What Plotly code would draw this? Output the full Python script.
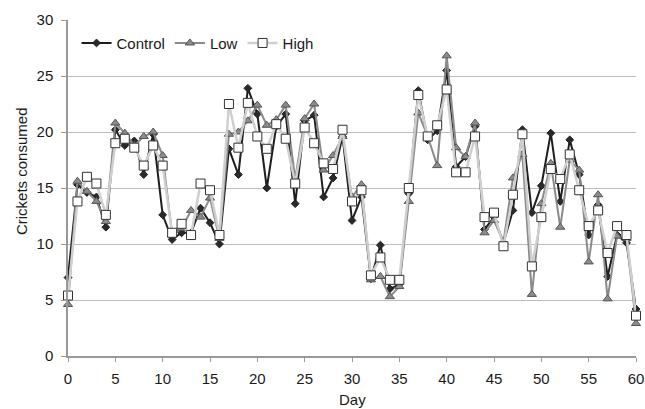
import plotly.graph_objects as go

days = list(range(0, 61))

control = [7.0, 15.3, 14.6, 14.2, 11.5, 20.2, 18.8, 19.2, 16.2, 19.8,
           12.6, 10.4, 11.0, 11.0, 13.2, 11.9, 10.0, 18.5, 16.2, 23.9,
           21.6, 15.0, 20.5, 21.6, 13.6, 21.0, 21.5, 14.2, 15.9, 19.6,
           12.1, 14.2, 6.9, 9.9, 6.0, 6.4, 14.5, 23.7, 19.3, 20.1,
           25.5, 16.9, 17.8, 20.5, 11.3, 12.4, 10.1, 13.0, 20.2, 12.8,
           15.2, 19.9, 13.8, 19.3, 16.2, 10.8, 13.5, 7.1, 10.8, 10.1,
           4.2]

low = [4.6, 15.6, 14.7, 13.8, 12.0, 20.8, 19.9, 18.8, 19.6, 20.0,
       17.9, 10.8, 11.4, 13.0, 12.4, 14.1, 10.5, 19.8, 20.0, 21.0,
       22.4, 20.6, 21.1, 22.4, 15.8, 21.2, 22.5, 16.6, 17.9, 19.6,
       14.2, 15.3, 6.8, 7.1, 5.3, 6.2, 13.8, 21.7, 19.6, 17.0,
       26.8, 18.6, 17.8, 20.8, 11.0, 12.1, 10.2, 15.9, 18.0, 5.5,
       13.6, 17.2, 11.5, 17.5, 16.6, 8.4, 14.4, 5.1, 10.7, 10.5,
       2.9]

high = [5.4, 13.8, 16.0, 15.4, 12.6, 19.0, 19.4, 18.6, 17.0, 18.8,
        17.0, 11.0, 11.8, 10.8, 15.4, 14.8, 10.8, 22.5, 18.6, 22.6,
        19.6, 18.5, 20.7, 19.4, 15.4, 20.4, 19.0, 17.2, 16.7, 20.2,
        13.8, 14.8, 7.2, 8.8, 6.8, 6.8, 15.0, 23.3, 19.6, 20.6,
        23.8, 16.4, 16.4, 19.6, 12.4, 12.8, 9.8, 14.4, 19.8, 8.0,
        12.4, 16.7, 15.8, 18.0, 14.8, 11.6, 13.0, 9.2, 11.6, 10.8,
        3.6]

x_ticks = list(range(0, 61, 5))
y_ticks = list(range(0, 31, 5))

fig = go.Figure()
fig.add_trace(go.Scatter(
    x=days, y=control, name="Control", mode="lines+markers",
    line=dict(color="#1e1e1e", width=2),
    marker=dict(symbol="diamond", size=6, color="#2a2a2a",
                line=dict(color="#1e1e1e", width=1)),
    cliponaxis=False))
fig.add_trace(go.Scatter(
    x=days, y=low, name="Low", mode="lines+markers",
    line=dict(color="#8a8a8a", width=2),
    marker=dict(symbol="triangle-up", size=8, color="#8c8c8c",
                line=dict(color="#555555", width=1)),
    cliponaxis=False))
fig.add_trace(go.Scatter(
    x=days, y=high, name="High", mode="lines+markers",
    line=dict(color="#cfcfcf", width=2.5),
    marker=dict(symbol="square", size=9, color="white",
                line=dict(color="#333333", width=1)),
    cliponaxis=False))

fig.update_layout(
    width=645, height=409,
    margin=dict(l=68, r=9, t=20, b=53, autoexpand=False),
    plot_bgcolor="white", paper_bgcolor="white",
    font=dict(family="Liberation Sans, Arial, sans-serif", size=15, color="#1a1a1a"),
    showlegend=True,
    legend=dict(orientation="h", x=0.015, y=0.98, xanchor="left", yanchor="top",
                bgcolor="rgba(0,0,0,0)", font=dict(size=15),
                itemwidth=30, tracegroupgap=0),
    xaxis=dict(range=[0, 60], tickvals=x_ticks, ticktext=[str(v) for v in x_ticks],
               showgrid=False, zeroline=False, showline=True, linecolor="#999999",
               linewidth=1.5, ticks="outside", ticklen=4, tickcolor="#999999",
               ticklabelstandoff=4, automargin=False,
               title=dict(text=""), tickfont=dict(size=15)),
    yaxis=dict(range=[0, 30], tickvals=y_ticks, ticktext=[str(v) for v in y_ticks],
               showgrid=True, gridcolor="#bdbdbd", gridwidth=1.2, zeroline=False,
               showline=True, linecolor="#999999", linewidth=1.5,
               ticks="outside", ticklen=5, tickcolor="#999999",
               ticklabelstandoff=5, automargin=False,
               title=dict(text=""), tickfont=dict(size=15)),
    annotations=[
        dict(text="Day", xref="paper", yref="paper", x=0.5, y=-0.13,
             xanchor="center", yanchor="middle", showarrow=False,
             font=dict(size=15)),
        dict(text="Crickets consumed", xref="paper", yref="paper", x=-0.083, y=0.55,
             xanchor="center", yanchor="middle", textangle=-90, showarrow=False,
             font=dict(size=15)),
    ],
)

fig.write_html("out.html")
